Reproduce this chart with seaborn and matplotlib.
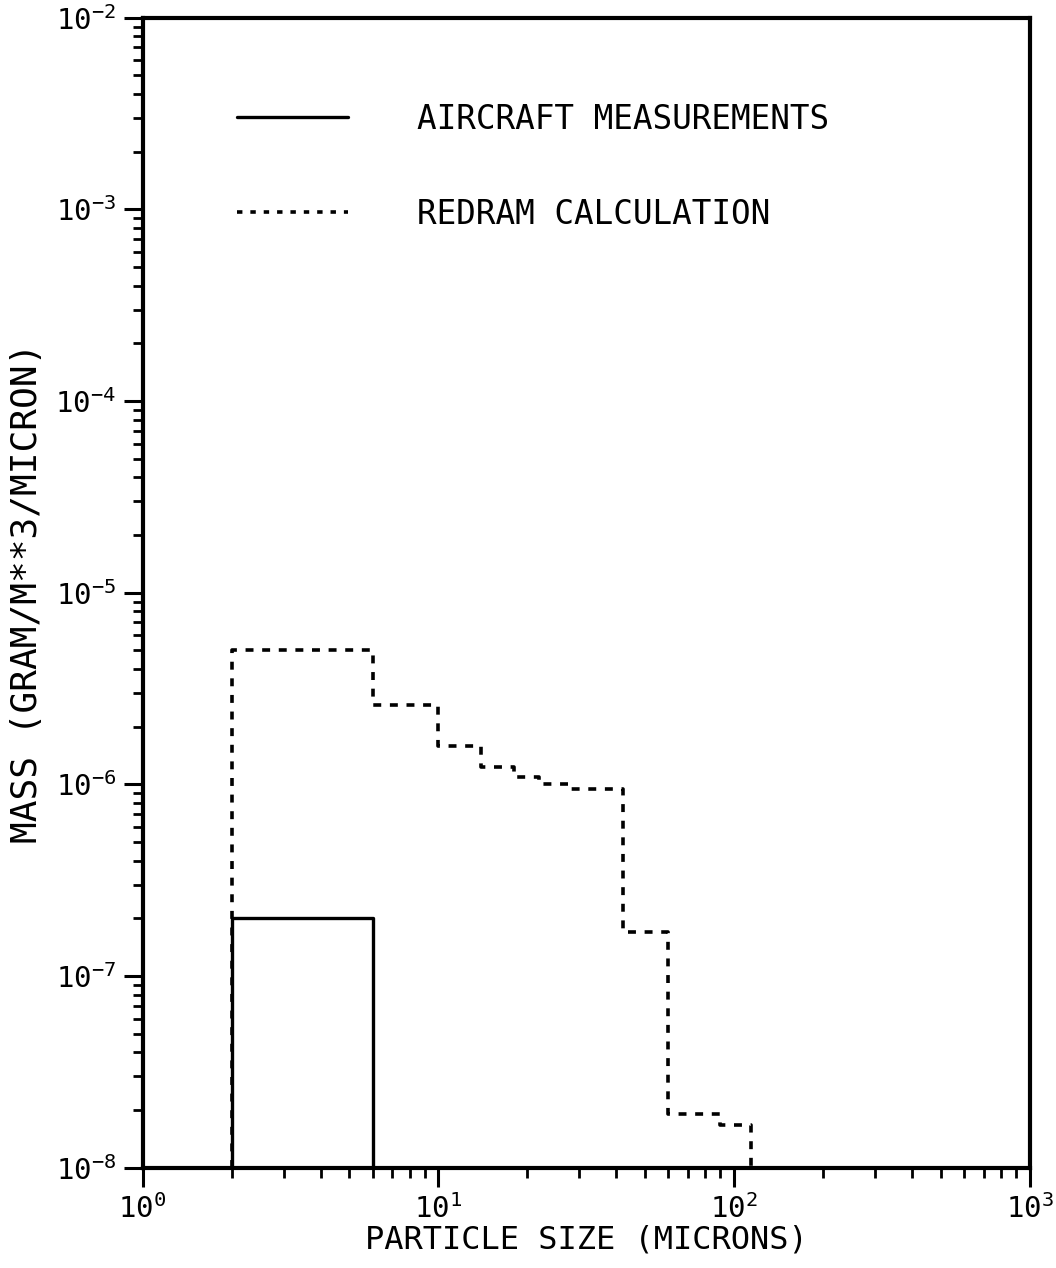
import numpy as np
import pandas as pd
import matplotlib
matplotlib.use("Agg")
import matplotlib.pyplot as plt
import seaborn as sns
from matplotlib.ticker import LogLocator, NullFormatter

# bin edges (microns) and mass per bin
redram_edges = [2, 6, 10, 14, 18, 22, 28, 42, 60, 90, 114]
redram_mass = [5.0e-6, 2.6e-6, 1.58e-6, 1.24e-6, 1.09e-6, 1.0e-6, 0.95e-6, 1.7e-7, 1.9e-8, 1.67e-8]

aircraft_edges = [2, 6]
aircraft_mass = [2.0e-7]

baseline = 1e-8


def outline(edges, vals):
    # closed step outline standing on the bottom of the axis
    xs, ys = [edges[0]], [baseline]
    for i, v in enumerate(vals):
        xs += [edges[i], edges[i + 1]]
        ys += [v, v]
    xs.append(edges[-1])
    ys.append(baseline)
    return pd.DataFrame({"size": xs, "mass": ys})


sns.set_style("ticks")
plt.rcParams["font.family"] = ["DejaVu Sans Mono", "DejaVu Sans"]
plt.rcParams["text.color"] = "black"
plt.rcParams["axes.labelcolor"] = "black"
plt.rcParams["xtick.color"] = "black"
plt.rcParams["ytick.color"] = "black"

fig = plt.figure(figsize=(10.56, 12.68), dpi=100)
ax = fig.add_axes([0.135, 0.079, 0.84, 0.907])

air = outline(aircraft_edges, aircraft_mass)
red = outline(redram_edges, redram_mass)

sns.lineplot(data=air, x="size", y="mass", sort=False, estimator=None, ax=ax,
             color="black", linewidth=2.4, label="AIRCRAFT MEASUREMENTS")
sns.lineplot(data=red, x="size", y="mass", sort=False, estimator=None, ax=ax,
             color="black", linewidth=2.6, dashes=False, label="REDRAM CALCULATION")
ax.lines[1].set_linestyle((0, (2.2, 2.4)))

ax.set_xscale("log")
ax.set_yscale("log")
ax.set_xlim(1, 1000)
ax.set_ylim(1e-8, 1e-2)

ax.yaxis.set_minor_locator(LogLocator(base=10, subs=np.arange(2, 10), numticks=100))
ax.xaxis.set_minor_locator(LogLocator(base=10, subs=np.arange(2, 10), numticks=100))
ax.yaxis.set_minor_formatter(NullFormatter())
ax.xaxis.set_minor_formatter(NullFormatter())

ax.tick_params(which="major", direction="out", length=14, width=2.2, labelsize=21, pad=5)
ax.tick_params(which="minor", direction="out", length=7, width=2.0)
ax.tick_params(top=False, right=False)
for s in ax.spines.values():
    s.set_linewidth(3)
    s.set_color("black")

ax.set_xlabel("PARTICLE SIZE (MICRONS)", fontsize=23, labelpad=0)
ax.set_ylabel("MASS (GRAM/M**3/MICRON)", fontsize=26, labelpad=8)

leg = ax.legend(loc="upper left", bbox_to_anchor=(0.107, 0.926), frameon=False,
                fontsize=23.5, handlelength=3.4, handletextpad=2.1, labelspacing=1.9,
                borderpad=0, borderaxespad=0)
for h in leg.get_lines():
    h.set_color("black")
leg.get_lines()[1].set_linestyle((0, (1.5, 2.2)))
for t in leg.get_texts():
    t.set_color("black")

fig.savefig("out.png", dpi=100, facecolor="white")
